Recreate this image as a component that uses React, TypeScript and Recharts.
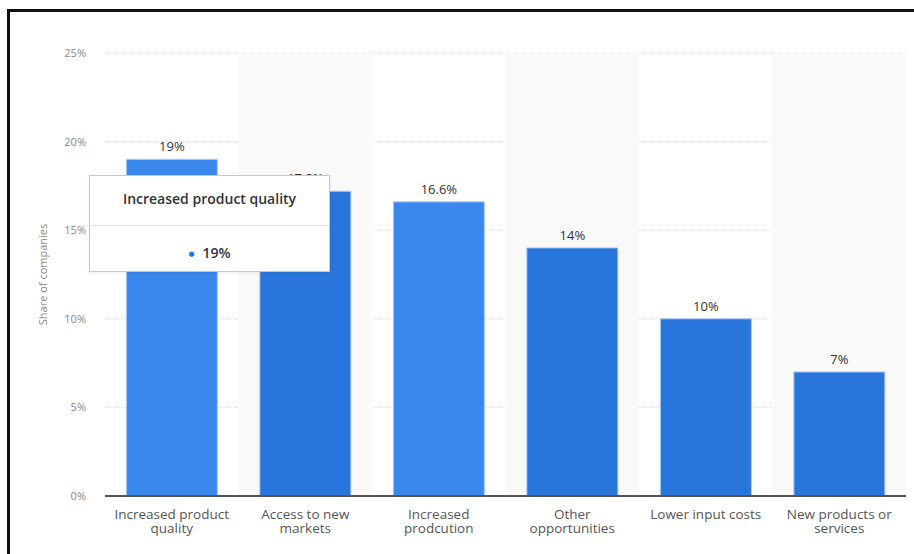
import { BarChart, Bar, XAxis, YAxis, CartesianGrid, Tooltip, LabelList, Cell, ReferenceArea, Text } from 'recharts'

const categories = [
  'Increased product quality',
  'Access to new markets',
  'Increased prodcution',
  'Other opportunities',
  'Lower input costs',
  'New products or services',
]
const shares = [19, 17.2, 16.6, 14, 10, 7]
const yTicks = [0, 5, 10, 15, 20, 25]
// bars 1 and 3 show the lighter (highlighted) blue in the source
const highlighted = [true, false, true, false, false, false]

const data = categories.map((name, i) => ({ name, share: shares[i] }))

const FONT = '"Open Sans", "DejaVu Sans", sans-serif'

function XTick(props: any) {
  const { x, y, payload } = props
  return (
    <Text
      x={x}
      y={y}
      width={118}
      textAnchor="middle"
      verticalAnchor="start"
      lineHeight={14.5}
      fontSize={13.5}
      fill="#555"
      fontFamily={FONT}
    >
      {payload.value}
    </Text>
  )
}

function TipBox({ active, payload, label }: any) {
  if (!active || !payload || !payload.length) return null
  return (
    <div
      style={{
        width: 239,
        height: 95,
        background: '#fff',
        border: '1px solid #c8c8c8',
        fontFamily: FONT,
        color: '#333',
        boxShadow: '0 1px 3px rgba(0,0,0,0.08)',
      }}
    >
      <div style={{ height: 49, lineHeight: '46px', textAlign: 'center', fontSize: 14, fontWeight: 600, borderBottom: '1px solid #e2e2e2' }}>
        {label}
      </div>
      <div style={{ lineHeight: '54px', textAlign: 'center', fontSize: 14, fontWeight: 600 }}>
        <span style={{ color: '#2876dc', fontSize: 7, marginRight: 8, verticalAlign: 'middle' }}>●</span>
        {payload[0].value}%
      </div>
    </div>
  )
}

export default function App() {
  return (
    <div style={{ position: 'absolute', left: 0, top: 0, width: 914, height: 554, background: '#fff', overflow: 'hidden' }}>
      <div
        style={{
          position: 'absolute',
          left: 7,
          top: 9,
          width: 940,
          height: 600,
          borderLeft: '3px solid #111',
          borderTop: '3px solid #111',
        }}
      />
      <div style={{ position: 'absolute', left: 0, top: 0 }}>
        <BarChart
          width={914}
          height={554}
          data={data}
          margin={{ top: 53, right: 8, bottom: 28, left: 12 }}
          barCategoryGap="16%"
        >
          {categories.filter((_, i) => i % 2 === 1).map((c) => (
            <ReferenceArea key={c} x1={c} x2={c} y1={0} y2={25} fill="#f9f9f9" fillOpacity={1} stroke="none" ifOverflow="visible" />
          ))}
          <CartesianGrid vertical={false} stroke="#dedede" strokeDasharray="1 1" />
          <XAxis
            dataKey="name"
            interval={0}
            height={30}
            tickLine={false}
            tickSize={0}
            tickMargin={13}
            axisLine={{ stroke: '#555', strokeWidth: 2 }}
            tick={<XTick />}
          />
          <YAxis
            width={93}
            domain={[0, 25]}
            ticks={yTicks}
            tickFormatter={(v: number) => `${v}%`}
            axisLine={false}
            tickLine={false}
            tickSize={0}
            tickMargin={19}
            tick={{ fontSize: 11, fill: '#888', fontFamily: FONT }}
            label={(p: any) => {
              const vb = p.viewBox || { x: 12, y: 53, height: 443 }
              const cx = vb.x + 30
              const cy = vb.y + vb.height / 2
              return (
                <text
                  x={cx}
                  y={cy}
                  transform={`rotate(-90 ${cx} ${cy})`}
                  textAnchor="middle"
                  dominantBaseline="central"
                  fontSize={11}
                  fill="#888"
                  fontFamily={FONT}
                >
                  Share of companies
                </text>
              )
            }}
          />
          <Tooltip
            defaultIndex={0}
            active
            cursor={false}
            position={{ x: 89, y: 175 }}
            content={<TipBox />}
            isAnimationActive={false}
            wrapperStyle={{ outline: 'none' }}
          />
          <Bar dataKey="share" isAnimationActive={false} stroke="#a9c9f3" strokeWidth={1} activeBar={false}>
            {data.map((d, i) => (
              <Cell key={d.name} fill={highlighted[i] ? '#3a87ee' : '#2876dc'} />
            ))}
            <LabelList
              dataKey="share"
              position="top"
              offset={8}
              formatter={(v: any) => `${v}%`}
              style={{ fontSize: 13, fill: '#333', fontFamily: FONT, fontWeight: 500 }}
            />
          </Bar>
        </BarChart>
      </div>
    </div>
  )
}
